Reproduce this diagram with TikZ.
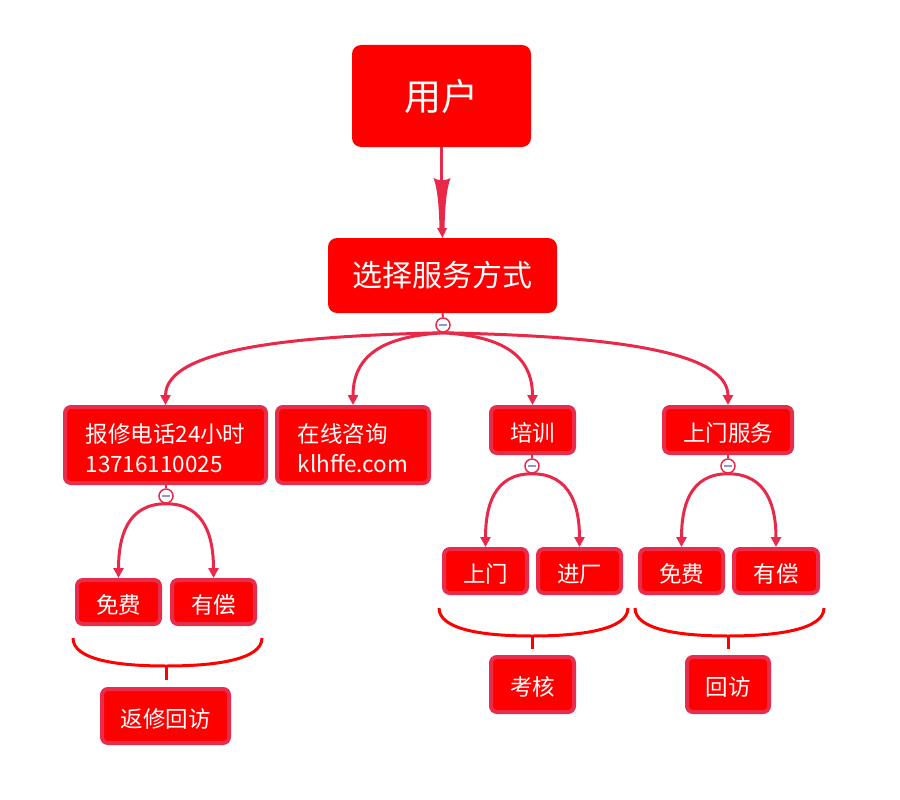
\documentclass[tikz,border=0pt]{standalone}
\usepackage{fontspec}
\newfontfamily\cjk{Noto Sans CJK SC}
\usetikzlibrary{arrows.meta,calc}
\definecolor{nodered}{RGB}{255,0,0}
\definecolor{edgecol}{RGB}{232,41,74}
\definecolor{bordercol}{RGB}{232,44,76}
\definecolor{minuscol}{RGB}{140,155,200}
\tikzset{
  topbox/.style={fill=nodered, rounded corners=9pt, text=white, inner sep=0pt},
  box/.style={fill=nodered, draw=bordercol, line width=4pt, rounded corners=6pt, text=white,
    font=\cjk\fontsize{22.5}{30}\selectfont, inner sep=0pt, align=left, text height=24pt},
  twoline/.style={box, text height=56pt},
  conn/.style={draw=edgecol, line width=3pt, -{Triangle[length=10pt,width=10pt]}},
  stub/.style={draw=edgecol, line width=2pt},
  bracepath/.style={draw=nodered, line width=3pt},
  fold/.style={circle, draw=edgecol, line width=1.5pt, fill=white, minimum size=14pt, inner sep=0pt,
    path picture={\draw[minuscol, line width=2pt] ($(path picture bounding box.center)+(-4pt,0)$) -- ($(path picture bounding box.center)+(4pt,0)$);}},
}
\begin{document}
\begin{tikzpicture}[x=1pt,y=-1pt]
\useasboundingbox (0,0) rectangle (900,800);
\fill[white] (0,0) rectangle (900,800);

% top nodes
\node[topbox, minimum width=179pt, minimum height=102pt, font=\cjk\fontsize{37}{42}\selectfont] (user) at (441.5,96) {用户};
\node[topbox, minimum width=229pt, minimum height=75pt, font=\cjk\fontsize{30}{34}\selectfont] (sel) at (442.5,275.5) {选择服务方式};

% top spear arrow
\draw[edgecol, line width=3pt] (user.south) -- ($(user.south)+(0,34)$);
\fill[edgecol] (433.5,178) .. controls (438,181) and (446,181) .. (450.5,178)
  .. controls (446,190) and (445,210) .. (444.5,228) -- (447,228) -- (sel.north)
  -- (437,228) -- (439.5,228) .. controls (439,210) and (438,190) .. (433.5,178) -- cycle;

% level 1
\node[twoline, minimum width=201pt, minimum height=76pt] (a1) at (165.5,445) {报修电话24小时\\13716110025};
\node[twoline, minimum width=152pt, minimum height=76pt] (a2) at (353,445) {在线咨询\\klhffe.com};
\node[box, minimum width=83pt, minimum height=46pt] (a3) at (532.5,430) {培训};
\node[box, minimum width=128pt, minimum height=46pt] (a4) at (728,430) {上门服务};

\node[fold] (k0) at (443,325) {};
\node[fold] (k1) at (166,496) {};
\node[fold] (k2) at (532,466) {};
\node[fold] (k3) at (728,466) {};

\draw[stub] (sel.south) -- (k0.north);
\draw[stub] (a1.south -| k1.north) -- (k1.north);
\draw[stub] (a3.south -| k2.north) -- (k2.north);
\draw[stub] (a4.south -| k3.north) -- (k3.north);

\foreach \c in {a1,a2,a3,a4}
  \draw[conn] (k0.south) .. controls ($($(k0.south)!0.5!(\c.north |- k0.south)$)+(0,3)$)
     and ($(\c.north |- k0.south)+(0,14)$) .. (\c.north);

% level 2
\node[box, minimum width=83pt, minimum height=44pt] (b1) at (118.5,602) {免费};
\node[box, minimum width=83pt, minimum height=44pt] (b2) at (213.5,602) {有偿};
\node[box, minimum width=83pt, minimum height=44pt] (c1) at (485.5,571) {上门};
\node[box, minimum width=83pt, minimum height=44pt] (c2) at (579.5,571) {进厂};
\node[box, minimum width=83pt, minimum height=44pt] (d1) at (681.5,571) {免费};
\node[box, minimum width=84pt, minimum height=44pt] (d2) at (776,571) {有偿};

\foreach \k/\c in {k1/b1,k2/c1,k3/d1}
  \draw[conn] (\k.south) to[out=180,in=90,looseness=1.15] (\c.north);
\foreach \k/\c in {k1/b2,k2/c2,k3/d2}
  \draw[conn] (\k.south) to[out=0,in=90,looseness=1.15] (\c.north);

% braces
\draw[bracepath] (73,638) .. controls (73,660) and (118,666) .. (166,666) .. controls (214,666) and (262,660) .. (262,638);
\draw[bracepath] (166,666) -- (166,680);
\draw[bracepath] (439,608) .. controls (439,630) and (485,636) .. (532,636) .. controls (579,636) and (628,630) .. (628,608);
\draw[bracepath] (532,636) -- (532,649);
\draw[bracepath] (635,608) .. controls (635,630) and (681,636) .. (728,636) .. controls (775,636) and (824,630) .. (824,608);
\draw[bracepath] (728,636) -- (728,649);

% result nodes
\node[box, minimum width=127pt, minimum height=54pt] (r1) at (165.5,716) {返修回访};
\node[box, minimum width=83pt, minimum height=55pt] (r2) at (532.5,684.5) {考核};
\node[box, minimum width=82pt, minimum height=55pt] (r3) at (728,684.5) {回访};
\end{tikzpicture}
\end{document}
